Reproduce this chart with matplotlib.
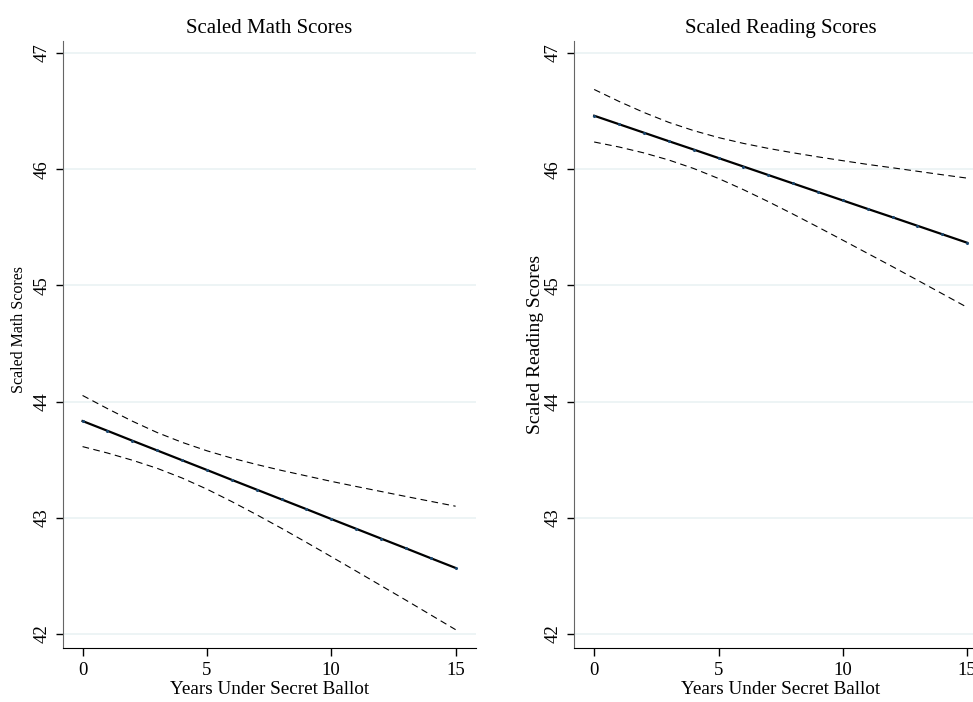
import numpy as np
import matplotlib.pyplot as plt

plt.rcParams['font.family'] = ['Liberation Serif', 'DejaVu Serif']

years = list(range(16))

# math panel: fitted line and 95% band
math_fit = [43.833, 43.749, 43.664, 43.580, 43.496, 43.412, 43.327, 43.243,
            43.159, 43.075, 42.990, 42.906, 42.822, 42.738, 42.653, 42.569]
math_hi = [44.053, 43.940, 43.832, 43.734, 43.650, 43.577, 43.514, 43.459,
           43.408, 43.361, 43.314, 43.270, 43.227, 43.184, 43.142, 43.100]
math_lo = [43.613, 43.558, 43.496, 43.426, 43.343, 43.247, 43.140, 43.027,
           42.910, 42.789, 42.666, 42.542, 42.417, 42.292, 42.165, 42.038]

# reading panel
read_fit = [46.460, 46.387, 46.314, 46.241, 46.169, 46.096, 46.023, 45.950,
            45.877, 45.804, 45.731, 45.658, 45.586, 45.513, 45.440, 45.367]
read_hi = [46.686, 46.583, 46.488, 46.403, 46.332, 46.272, 46.222, 46.179,
           46.141, 46.106, 46.073, 46.041, 46.012, 45.982, 45.952, 45.923]
read_lo = [46.234, 46.191, 46.140, 46.079, 46.006, 45.920, 45.824, 45.721,
           45.613, 45.502, 45.389, 45.275, 45.161, 45.045, 44.928, 44.811]

yticks = [42, 43, 44, 45, 46, 47]
xticks = [0, 5, 10, 15]

fig = plt.figure(figsize=(9.73, 7.02), dpi=100)
ax1 = fig.add_axes([0.0644, 0.0769, 0.4248, 0.8647])
ax2 = fig.add_axes([0.5902, 0.0769, 0.4248, 0.8647])

# (axes, fit, upper, lower, name, ylabel size, ylabel x/y in axes coords)
panels = [
    (ax1, math_fit, math_hi, math_lo, 'Scaled Math Scores', 11.5, -0.086, 0.524),
    (ax2, read_fit, read_hi, read_lo, 'Scaled Reading Scores', 14, -0.073, 0.5),
]

for ax, fit, hi, lo, name, ylab_size, ylab_x, ylab_y in panels:
    ax.plot(years, hi, color='black', lw=0.8, ls=(0, (6, 4)))
    ax.plot(years, lo, color='black', lw=0.8, ls=(0, (6, 4)))
    ax.plot(years, fit, color='black', lw=1.6)
    ax.plot(years, fit, ls='none', marker='o', ms=1.2, color='#1a476f')

    ax.set_xlim(-0.8, 15.82)
    ax.set_ylim(41.88, 47.103)
    ax.set_xticks(xticks)
    ax.set_yticks(yticks)
    ax.grid(axis='y', color='#eaf2f3', lw=1.2)
    ax.set_axisbelow(True)

    for s in ['top', 'right']:
        ax.spines[s].set_visible(False)
    ax.spines['left'].set_color('#666666')
    ax.spines['bottom'].set_color('black')

    ax.tick_params(axis='x', length=6, width=1, labelsize=13.5, pad=4)
    ax.tick_params(axis='y', length=5, width=1, labelsize=13.5, pad=4)
    for lab in ax.get_yticklabels():
        lab.set_rotation(90)
        lab.set_va('center')

    ax.set_title(name, fontsize=15, pad=6)
    ax.set_xlabel('Years Under Secret Ballot', fontsize=13.8, labelpad=1.5)
    ax.set_ylabel(name, fontsize=ylab_size)
    ax.yaxis.set_label_coords(ylab_x, ylab_y)

fig.savefig('out.png', dpi=100)
